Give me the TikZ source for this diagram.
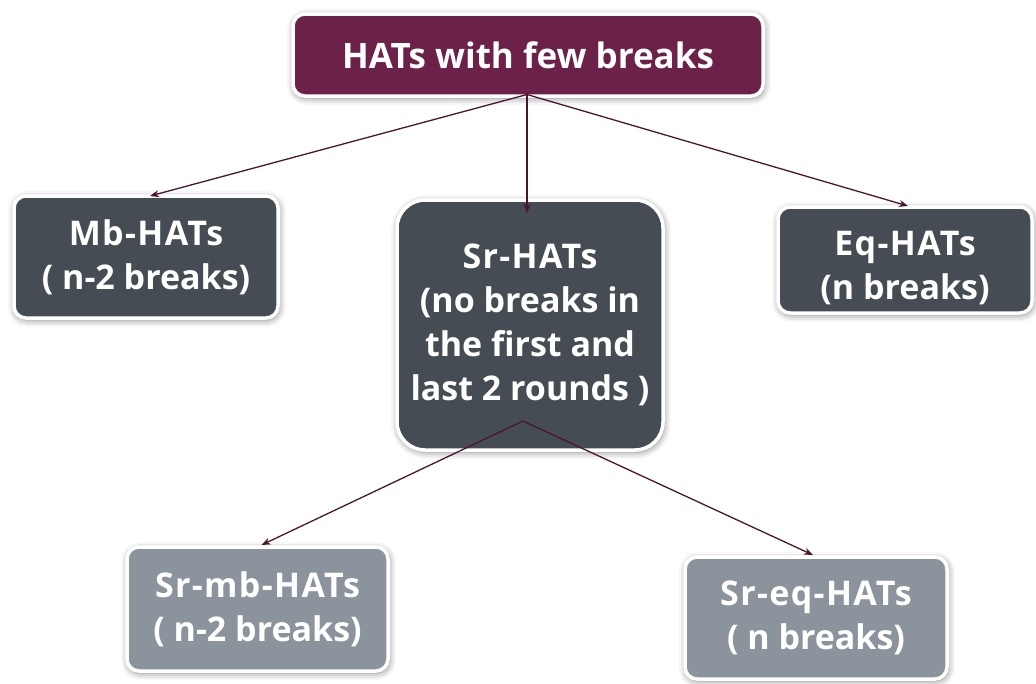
\documentclass[tikz,border=0pt]{standalone}
\usepackage{fontspec}
\setmainfont{Open Sans}
\newfontfamily\widesans{Open Sans}[LetterSpace=4]
\usetikzlibrary{arrows.meta,shadows.blur}

\definecolor{wine}{HTML}{6B2148}
\definecolor{slate}{HTML}{464C53}
\definecolor{steel}{HTML}{8B949D}
\definecolor{linkcol}{HTML}{4A1530}

% a name line set a little wider than the rest
\newcommand\nameline[1]{{\widesans\bfseries #1}}

\tikzset{
  card/.style={rectangle, rounded corners=12pt, draw=white, line width=3.5pt,
    outer sep=0pt, inner sep=0pt, align=center, text=white,
    font=\bfseries\fontsize{34}{44}\selectfont,
    blur shadow={shadow xshift=1pt, shadow yshift=-2pt, shadow blur radius=7pt, shadow opacity=50}},
  headcard/.style={card, fill=wine, font=\bfseries\fontsize{35}{40}\selectfont},
  darkcard/.style={card, fill=slate},
  lightcard/.style={card, fill=steel},
  link/.style={draw=linkcol, line width=1.3pt, -{Stealth[length=9pt,width=7pt]}}
}

\begin{document}
\begin{tikzpicture}[x=1pt,y=-1pt]
  \useasboundingbox (0,0) rectangle (1036,683);

  % boxes
  \node[headcard, minimum width=470pt, minimum height=82pt] (top) at (528,55) {HATs with few breaks};
  \node[darkcard, minimum width=264pt, minimum height=122pt] (mb) at (146,257)
    {\nameline{Mb-HATs}\\( n-2 breaks)};
  \node[darkcard, rounded corners=28pt, minimum width=266pt, minimum height=250pt] (sr) at (530,325)
    {\nameline{Sr-HATs}\\(no breaks in\\the first and\\last 2 rounds )};
  \node[darkcard, minimum width=254pt, minimum height=106pt] (eq) at (905,260)
    {\raisebox{-9pt}[\height][\depth]{\begin{tabular}{@{}c@{}}\nameline{Eq-HATs}\\(n breaks)\end{tabular}}};
  \node[lightcard, minimum width=261pt, minimum height=124pt] (srmb) at (257.5,609)
    {\nameline{Sr-mb-HATs}\\( n-2 breaks)};
  \node[lightcard, minimum width=262pt, minimum height=122pt] (sreq) at (816,618)
    {\nameline{Sr-eq-HATs}\\( n breaks)};

  % connectors
  \coordinate (hub) at ([xshift=-1pt,yshift=1.5pt]top.south);
  \coordinate (srhub) at ([xshift=-7pt,yshift=29pt]sr.south);
  \draw[link] (hub) -- ([xshift=4pt]mb.north);
  \draw[link] (hub) -- ([xshift=-3pt,yshift=-13pt]sr.north);
  \draw[link] (hub) -- ([xshift=3pt,yshift=1pt]eq.north);
  \draw[link] (srhub) -- ([xshift=4pt,yshift=2pt]srmb.north);
  \draw[link] (srhub) -- ([xshift=-3pt,yshift=2pt]sreq.north);
\end{tikzpicture}
\end{document}
